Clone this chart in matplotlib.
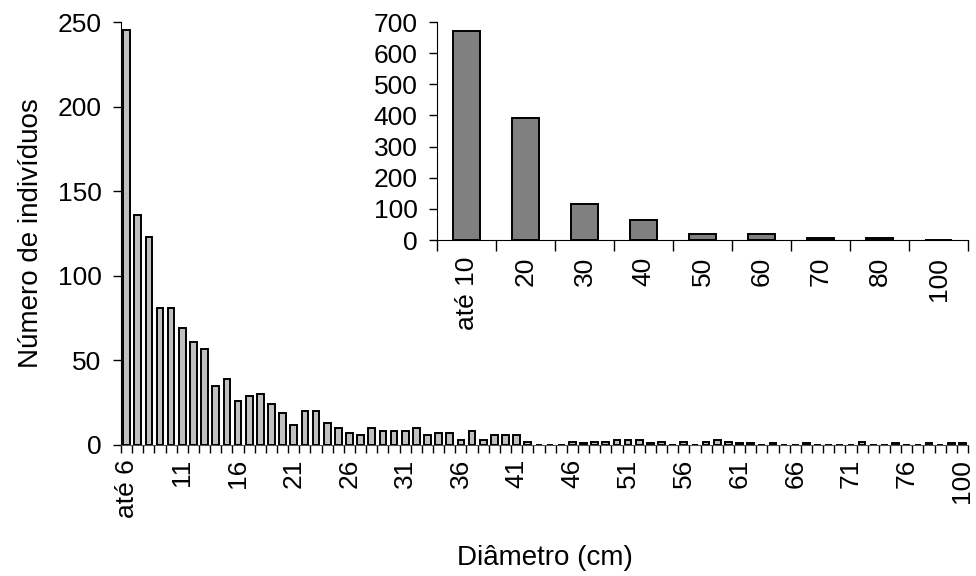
import matplotlib
matplotlib.use("Agg")
import matplotlib.pyplot as plt
import numpy as np

plt.rcParams['font.family'] = ['Liberation Sans', 'DejaVu Sans']

# Main chart data: diameter classes (cm)
main_categories = ["até 6"] + [str(d) for d in range(7, 81)] + ["100"]
main_counts = [245, 136, 123, 81, 81, 69, 61, 57, 35, 39,
               26, 29, 30, 24, 19, 12, 20, 20, 13, 10,
               7, 6, 10, 8, 8, 8, 10, 6, 7, 7,
               3, 8, 3, 6, 6, 6, 2, 0, 0, 0,
               2, 1, 2, 2, 3, 3, 3, 1, 2, 0,
               2, 0, 2, 3, 2, 1, 1, 0, 1, 0,
               0, 1, 0, 0, 0, 0, 2, 0, 0, 1,
               0, 0, 1, 0, 1, 1]
main_yticks = [0, 50, 100, 150, 200, 250]

# Inset data: 10 cm classes
inset_categories = ["até 10", "20", "30", "40", "50", "60", "70", "80", "100"]
inset_counts = [670, 393, 116, 65, 20, 20, 5, 5, 0]
inset_yticks = [0, 100, 200, 300, 400, 500, 600, 700]

FS = 19
LFS = 20

fig = plt.figure(figsize=(9.76, 5.76), dpi=100)

ax = fig.add_axes([121/976, 1 - 445/576, (968-121)/976, (445-22)/576])
x = np.arange(len(main_categories))
ax.bar(x, main_counts, width=0.6, color="#C0C0C0", edgecolor="black", linewidth=1.4, zorder=3)
ax.set_xlim(-0.5, len(main_categories) - 0.5)
ax.set_ylim(0, 250)
ax.set_yticks(main_yticks)
ax.set_yticklabels([str(v) for v in main_yticks], fontsize=FS)
# tick marks between categories
ax.set_xticks(np.arange(len(main_categories) + 1) - 0.5)
ax.set_xticklabels([])
ax.set_xticks(x[::5], minor=True)
ax.set_xticklabels([main_categories[i] for i in x[::5]], minor=True, rotation=90, fontsize=FS)
ax.tick_params(axis='x', which='major', length=6, width=1, color="black", direction='out')
ax.tick_params(axis='x', which='minor', length=0, pad=10)
ax.tick_params(axis='y', length=6, width=1, direction='out', pad=8)
for s in ["top", "right"]:
    ax.spines[s].set_visible(False)
ax.spines["left"].set_color("black")
ax.spines["bottom"].set_color("#555555")
ax.set_ylabel("Número de indivíduos", fontsize=LFS, labelpad=10)
ax.set_xlabel("Diâmetro (cm)", fontsize=LFS, labelpad=20)

# Inset
ax2 = fig.add_axes([437/976, 1 - 240/576, (968-437)/976, (240-22)/576])
x2 = np.arange(len(inset_categories))
ax2.bar(x2, inset_counts, width=0.45, color="#808080", edgecolor="black", linewidth=1.4, zorder=3)
ax2.set_xlim(-0.5, len(inset_categories) - 0.5)
ax2.set_ylim(0, 700)
ax2.set_yticks(inset_yticks)
ax2.set_yticklabels([str(v) for v in inset_yticks], fontsize=FS)
ax2.set_xticks(np.arange(len(inset_categories) + 1) - 0.5)
ax2.set_xticklabels([])
ax2.set_xticks(x2, minor=True)
ax2.set_xticklabels(inset_categories, minor=True, rotation=90, fontsize=FS)
ax2.tick_params(axis='x', which='major', length=8, width=1, direction='out')
ax2.tick_params(axis='x', which='minor', length=0, pad=12)
ax2.tick_params(axis='y', length=6, width=1, direction='out', pad=8)
for s in ["top", "right"]:
    ax2.spines[s].set_visible(False)
ax2.patch.set_alpha(0)

fig.savefig("out.png", dpi=100)
